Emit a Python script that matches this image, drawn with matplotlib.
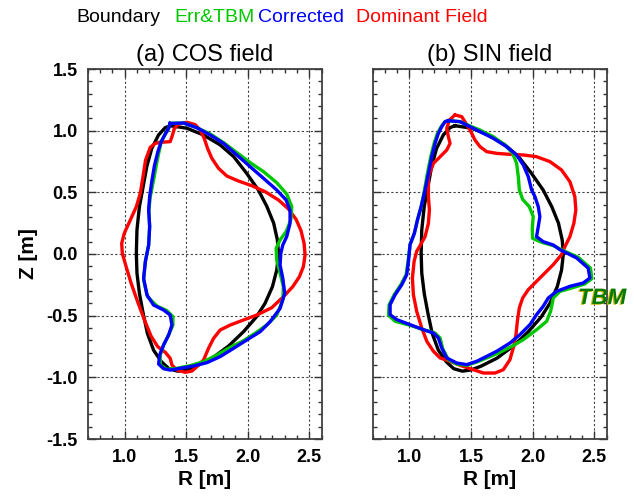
import numpy as np
import matplotlib
matplotlib.use("Agg")
import matplotlib.pyplot as plt
import matplotlib.patheffects as pe
from matplotlib.ticker import MultipleLocator

plt.rcParams['font.family'] = ['Liberation Sans', 'DejaVu Sans']
plt.rcParams['axes.unicode_minus'] = False

# plasma boundary (same in both panels)
bnd_R = [1.37, 1.505, 1.64, 1.775, 1.885, 1.99, 2.085, 2.155, 2.21, 2.24, 2.25, 2.235, 2.20, 2.14,
         2.07, 1.965, 1.845, 1.71, 1.58, 1.50, 1.43, 1.36, 1.30, 1.235, 1.185, 1.15, 1.12, 1.10,
         1.095, 1.10, 1.12, 1.15, 1.18, 1.22, 1.275, 1.33]
bnd_Z = [1.04, 1.02, 0.965, 0.885, 0.79, 0.655, 0.52, 0.385, 0.25, 0.115, 0.005, -0.13, -0.265, -0.40,
         -0.51, -0.63, -0.745, -0.845, -0.91, -0.94, -0.95, -0.93, -0.875, -0.78, -0.645, -0.48, -0.32, -0.155,
         0.005, 0.195, 0.385, 0.545, 0.71, 0.855, 0.965, 1.025]

# (a) COS field
cos_dom_R = [1.289, 1.370, 1.386, 1.403, 1.438, 1.505, 1.573, 1.614, 1.646, 1.673, 1.708, 1.762, 1.830,
             1.924, 2.032, 2.141, 2.249, 2.330, 2.392, 2.432, 2.457, 2.465, 2.451, 2.419, 2.365, 2.289,
             2.195, 2.073, 1.965, 1.857, 1.776, 1.722, 1.681, 1.641, 1.586, 1.546, 1.492, 1.424, 1.384,
             1.370, 1.330, 1.268, 1.214, 1.159, 1.105, 1.051, 1.008, 0.981, 0.976, 0.997, 1.046, 1.095,
             1.127, 1.149, 1.170, 1.208, 1.249]
cos_dom_Z = [0.905, 0.911, 0.957, 1.016, 1.054, 1.068, 1.049, 1.005, 0.938, 0.857, 0.776, 0.695, 0.632,
             0.592, 0.554, 0.505, 0.438, 0.365, 0.281, 0.189, 0.086, -0.008, -0.103, -0.184, -0.265, -0.346,
             -0.435, -0.495, -0.535, -0.576, -0.616, -0.684, -0.765, -0.859, -0.914, -0.949, -0.959, -0.941, -0.900,
             -0.846, -0.797, -0.751, -0.665, -0.530, -0.386, -0.232, -0.089, 0.005, 0.086, 0.168, 0.276, 0.384,
             0.492, 0.627, 0.762, 0.865, 0.897]

cos_cor_R = [1.370, 1.478, 1.586, 1.695, 1.803, 1.911, 2.019, 2.127, 2.235, 2.311, 2.343, 2.343, 2.316,
             2.284, 2.268, 2.262, 2.284, 2.300, 2.262, 2.181, 2.100, 1.992, 1.884, 1.776, 1.668, 1.559,
             1.451, 1.370, 1.316, 1.276, 1.284, 1.316, 1.357, 1.384, 1.370, 1.316, 1.235, 1.181, 1.154,
             1.168, 1.195, 1.203, 1.195, 1.203, 1.222, 1.243, 1.270, 1.297, 1.330, 1.357]
cos_cor_Z = [1.059, 1.062, 1.024, 0.965, 0.897, 0.803, 0.708, 0.614, 0.519, 0.438, 0.351, 0.249, 0.141,
             0.073, 0.005, -0.089, -0.197, -0.319, -0.441, -0.549, -0.630, -0.697, -0.765, -0.832, -0.881, -0.908,
             -0.927, -0.941, -0.930, -0.892, -0.819, -0.738, -0.657, -0.576, -0.495, -0.454, -0.414, -0.332, -0.197,
             -0.062, 0.073, 0.222, 0.357, 0.465, 0.600, 0.722, 0.830, 0.911, 0.973, 1.019]

cos_err_R = [1.370, 1.478, 1.586, 1.695, 1.803, 1.911, 2.019, 2.127, 2.235, 2.316, 2.357, 2.349, 2.311,
             2.262, 2.230, 2.235, 2.262, 2.289, 2.284, 2.235, 2.154, 2.059, 1.965, 1.857, 1.749, 1.641,
             1.532, 1.424, 1.343, 1.289, 1.289, 1.316, 1.357, 1.392, 1.392, 1.343, 1.262, 1.186, 1.154,
             1.168, 1.195, 1.203, 1.197, 1.208, 1.235, 1.257, 1.276, 1.297, 1.330, 1.357]
cos_err_Z = [1.059, 1.062, 1.024, 0.973, 0.903, 0.822, 0.741, 0.668, 0.578, 0.486, 0.384, 0.276, 0.181,
             0.114, 0.046, -0.049, -0.157, -0.265, -0.373, -0.495, -0.576, -0.643, -0.703, -0.757, -0.819, -0.873,
             -0.905, -0.927, -0.935, -0.900, -0.819, -0.738, -0.657, -0.576, -0.508, -0.459, -0.422, -0.346, -0.211,
             -0.062, 0.073, 0.222, 0.357, 0.465, 0.600, 0.722, 0.816, 0.911, 0.973, 1.019]

# (b) SIN field
sin_dom_R = [1.370, 1.424, 1.459, 1.492, 1.532, 1.573, 1.627, 1.708, 1.816, 1.924, 2.032, 2.141, 2.235,
             2.303, 2.343, 2.351, 2.335, 2.303, 2.262, 2.235, 2.168, 2.086, 2.019, 1.965, 1.919, 1.892,
             1.876, 1.865, 1.843, 1.816, 1.762, 1.695, 1.600, 1.519, 1.411, 1.330, 1.249, 1.195, 1.141,
             1.100, 1.059, 1.032, 1.024, 1.038, 1.059, 1.081, 1.127, 1.154, 1.162, 1.154, 1.154, 1.195,
             1.249, 1.303, 1.330, 1.316, 1.303, 1.324]
sin_dom_Z = [1.127, 1.114, 1.059, 1.005, 0.924, 0.870, 0.830, 0.816, 0.808, 0.803, 0.789, 0.749, 0.681,
             0.586, 0.465, 0.357, 0.249, 0.141, 0.059, -0.005, -0.086, -0.168, -0.235, -0.289, -0.357, -0.438,
             -0.546, -0.654, -0.762, -0.857, -0.938, -0.965, -0.965, -0.938, -0.903, -0.870, -0.843, -0.789, -0.708,
             -0.600, -0.465, -0.330, -0.195, -0.059, 0.022, 0.059, 0.141, 0.249, 0.357, 0.465, 0.627, 0.735,
             0.789, 0.843, 0.897, 0.951, 1.019, 1.086]

sin_cor_R = [1.316, 1.411, 1.492, 1.573, 1.681, 1.789, 1.870, 1.924, 1.965, 1.992, 2.019, 2.046, 2.059,
             2.046, 2.032, 2.086, 2.168, 2.222, 2.357, 2.451, 2.465, 2.411, 2.303, 2.195, 2.127, 2.086,
             2.032, 1.978, 1.897, 1.816, 1.708, 1.627, 1.546, 1.465, 1.384, 1.303, 1.262, 1.235, 1.195,
             1.114, 1.005, 0.897, 0.843, 0.843, 0.884, 0.938, 0.978, 0.992, 1.005, 1.040, 1.065, 1.095,
             1.127, 1.154, 1.181, 1.208, 1.235, 1.262, 1.289]
sin_cor_Z = [1.081, 1.073, 1.032, 0.992, 0.938, 0.870, 0.803, 0.722, 0.627, 0.519, 0.465, 0.384, 0.303,
             0.222, 0.141, 0.100, 0.073, 0.035, -0.032, -0.114, -0.195, -0.235, -0.262, -0.303, -0.357, -0.424,
             -0.492, -0.573, -0.654, -0.722, -0.789, -0.830, -0.870, -0.897, -0.884, -0.843, -0.762, -0.681, -0.641,
             -0.614, -0.573, -0.532, -0.492, -0.411, -0.330, -0.249, -0.168, -0.059, 0.076, 0.168, 0.276, 0.384,
             0.519, 0.654, 0.789, 0.897, 0.978, 1.032, 1.073]

sin_err_R = [1.316, 1.411, 1.492, 1.573, 1.681, 1.776, 1.838, 1.870, 1.884, 1.892, 1.919, 1.973, 2.005,
             1.997, 2.000, 2.073, 2.168, 2.235, 2.370, 2.470, 2.481, 2.424, 2.316, 2.222, 2.168, 2.146,
             2.114, 2.032, 1.924, 1.830, 1.722, 1.627, 1.546, 1.465, 1.384, 1.316, 1.270, 1.249, 1.208,
             1.114, 1.005, 0.884, 0.830, 0.835, 0.876, 0.930, 0.973, 0.989, 1.005, 1.040, 1.065, 1.095,
             1.122, 1.146, 1.173, 1.200, 1.227, 1.257, 1.289]
sin_err_Z = [1.081, 1.073, 1.038, 1.005, 0.951, 0.884, 0.816, 0.735, 0.627, 0.519, 0.443, 0.384, 0.303,
             0.208, 0.127, 0.095, 0.068, 0.035, -0.027, -0.114, -0.200, -0.243, -0.276, -0.303, -0.357, -0.465,
             -0.546, -0.614, -0.695, -0.749, -0.803, -0.843, -0.876, -0.903, -0.892, -0.857, -0.768, -0.681, -0.641,
             -0.614, -0.578, -0.546, -0.497, -0.411, -0.330, -0.249, -0.168, -0.059, 0.076, 0.168, 0.276, 0.384,
             0.519, 0.654, 0.789, 0.897, 0.978, 1.032, 1.073]

titles = ['(a) COS field', '(b) SIN field']
legend_names = ['Boundary', 'Err&TBM', 'Corrected', 'Dominant Field']
legend_x = [118, 214, 301, 422]

c_black = 'black'
c_green = '#00c800'
c_blue = '#0000ff'
c_red = '#ff0000'


def closed(r, z):
    return np.append(r, r[0]), np.append(z, z[0])


fig = plt.figure(figsize=(6.34, 4.96), dpi=100)
ax1 = fig.add_axes([87.7 / 634, 57 / 496, 234 / 634, 370 / 496])
ax2 = fig.add_axes([372.5 / 634, 57 / 496, 234 / 634, 370 / 496])

panels = [
    (ax1, (cos_err_R, cos_err_Z), (cos_cor_R, cos_cor_Z), (cos_dom_R, cos_dom_Z)),
    (ax2, (sin_err_R, sin_err_Z), (sin_cor_R, sin_cor_Z), (sin_dom_R, sin_dom_Z)),
]

lw = 2.4
for i, (ax, err, cor, dom) in enumerate(panels):
    ax.plot(*closed(bnd_R, bnd_Z), color=c_black, lw=lw)
    ax.plot(*closed(*dom), color=c_red, lw=lw)
    ax.plot(*closed(*err), color=c_green, lw=lw)
    ax.plot(*closed(*cor), color=c_blue, lw=lw)

    ax.set_xlim(0.7, 2.6)
    ax.set_ylim(-1.5, 1.5)
    ax.xaxis.set_major_locator(MultipleLocator(0.5))
    ax.yaxis.set_major_locator(MultipleLocator(0.5))
    ax.xaxis.set_minor_locator(MultipleLocator(0.1))
    ax.yaxis.set_minor_locator(MultipleLocator(0.1))
    ax.grid(True, which='major', color='0.25', ls=(0, (2, 2)), lw=0.8)
    ax.tick_params(which='both', direction='in', top=True, right=True, width=1, color='0.2')
    ax.tick_params(which='major', length=6, pad=7, labelsize=13)
    ax.tick_params(which='minor', length=3)
    for lab in ax.get_xticklabels() + ax.get_yticklabels():
        lab.set_fontweight('bold')
    for sp in ax.spines.values():
        sp.set_linewidth(1.3)
        sp.set_color('0.25')
    ax.set_xlabel('R [m]', fontsize=15, fontweight='bold', labelpad=3)
    ax.set_title(titles[i], fontsize=17, pad=6)

ax1.set_ylabel('Z [m]', fontsize=15, fontweight='bold', labelpad=6)
ax2.tick_params(labelleft=False)

ax2.text(2.37, -0.36, 'TBM', color='#007a00', fontsize=16, fontweight='bold', style='italic',
         ha='left', va='center', clip_on=False,
         path_effects=[pe.SimplePatchShadow(offset=(-1.0, -0.6), shadow_rgbFace='#d0b400', alpha=1.0),
                       pe.Normal()])

for name, x, col in zip(legend_names, legend_x, [c_black, c_green, c_blue, c_red]):
    fig.text(x / 634, 1 - 17 / 496, name, color=col, fontsize=14, ha='center', va='center')

fig.savefig('out.png', dpi=100)
